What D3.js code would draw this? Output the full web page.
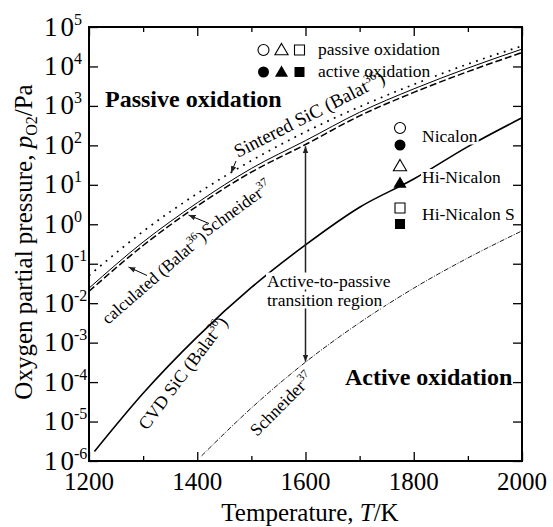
<!DOCTYPE html>
<html><head><meta charset="utf-8">
<script src="https://cdn.jsdelivr.net/npm/d3@7"></script>
<style>
body{margin:0;background:#fff}
svg{display:block}
text{font-family:"Liberation Serif","Times New Roman",serif;fill:#000}
</style>
</head><body>
<svg id="chart" width="553" height="527"></svg>
<script>
// ---- data (pressures in Pa, temperatures in K) ----
const temps = [1200, 1300, 1400, 1500, 1600, 1700, 1800, 1900, 2000];
const sinteredBalat = [0.050, 0.66, 6.0, 41, 220, 950, 3500, 11500, 33000];
const calculatedBalat = [0.024, 0.355, 3.5, 26, 132, 690, 2700, 9100, 27500];
const calculatedSchneider = [0.020, 0.29, 2.9, 21, 105, 560, 2200, 7400, 22500];
const cvdTemps = [1210, 1300, 1400, 1500, 1600, 1700, 1800, 1900, 2000];
const cvdBalat = [1.74e-6, 5.2e-5, 1.4e-3, 2.5e-2, 0.30, 2.7, 14, 93, 500];
const schneiderTemps = [1408, 1500, 1600, 1700, 1800, 1900, 2000];
const schneiderLow = [1.35e-6, 2.2e-5, 3.2e-4, 3.2e-3, 2.4e-2, 0.14, 0.68];
const xMajorTicks = [1200, 1400, 1600, 1800, 2000];
const xMinorTicks = [1300, 1500, 1700, 1900];
const yTickExponents = [-6, -5, -4, -3, -2, -1, 0, 1, 2, 3, 4, 5];
const transitionT = 1600;
const transitionTop = 95;
const transitionBottom = 3.3e-4;

// ---- layout ----
const L = 89, R = 522, T = 27, B = 461;
const svg = d3.select("#chart");
const x = d3.scaleLinear().domain([1200, 2000]).range([L, R]);
const y = d3.scaleLog().domain([1e-6, 1e5]).range([B, T]);

const defs = svg.append("defs");
function marker(id, orient) {
  defs.append("marker").attr("id", id).attr("viewBox", "0 0 10 10")
    .attr("refX", 10).attr("refY", 5).attr("markerWidth", 7).attr("markerHeight", 7)
    .attr("markerUnits", "userSpaceOnUse").attr("orient", orient)
    .append("path").attr("d", "M0,1 L10,5 L0,9 Z").attr("fill", "#222");
}
marker("ah", "auto");
marker("ah2", "auto-start-reverse");

// ---- curves ----
const line = d3.line().x(d => x(d[0])).y(d => y(d[1])).curve(d3.curveMonotoneX);
const curves = svg.append("g").attr("fill", "none").attr("stroke", "#000");
curves.append("path").datum(temps.map((t, i) => [t, sinteredBalat[i]]))
  .attr("d", line).attr("stroke-width", 1.7).attr("stroke-dasharray", "1.8,5.5");
curves.append("path").datum(temps.map((t, i) => [t, calculatedBalat[i]]))
  .attr("d", line).attr("stroke-width", 1);
curves.append("path").datum(temps.map((t, i) => [t, calculatedSchneider[i]]))
  .attr("d", line).attr("stroke-width", 1.5).attr("stroke-dasharray", "7,3");
curves.append("path").datum(cvdTemps.map((t, i) => [t, cvdBalat[i]]))
  .attr("d", line).attr("stroke-width", 1.6);
curves.append("path").datum(schneiderTemps.map((t, i) => [t, schneiderLow[i]]))
  .attr("d", line).attr("stroke-width", 0.9).attr("stroke-dasharray", "5,1.5,1,1.5");

// ---- transition arrow ----
svg.append("line")
  .attr("x1", x(transitionT)).attr("x2", x(transitionT))
  .attr("y1", y(transitionTop)).attr("y2", y(transitionBottom))
  .attr("stroke", "#222").attr("stroke-width", 1.5)
  .attr("marker-start", "url(#ah2)").attr("marker-end", "url(#ah)");

// helper: text with white box behind
function boxedText(g, tx, ty, str, size, weight, pad) {
  const t = g.append("text").attr("x", tx).attr("y", ty)
    .attr("font-size", size).attr("font-weight", weight || "normal").text(str);
  const bb = t.node().getBBox();
  g.insert("rect", () => t.node()).attr("x", bb.x - pad).attr("y", bb.y + 2)
    .attr("width", bb.width + 2 * pad).attr("height", bb.height - 3).attr("fill", "#fff");
  return t;
}

const ann = svg.append("g");
boxedText(ann, 267, 286.5, "Active-to-passive", 17.5, "normal", 1);
boxedText(ann, 267, 305.5, "transition region", 17.5, "normal", 1);
boxedText(ann, 105, 107, "Passive oxidation", 24, "bold", 1);
boxedText(ann, 345, 385, "Active oxidation", 24, "bold", 1);

// ---- legends ----
const sym = (type, size) => d3.symbol().type(type).size(size)();
const symTypes = [[d3.symbolCircle, 95], [d3.symbolTriangle, 75], [d3.symbolSquare, 100]];
const topLeg = svg.append("g");
[263.5, 281.5, 299.5].forEach((px, i) => {
  topLeg.append("path").attr("d", sym(symTypes[i][0], symTypes[i][1]))
    .attr("transform", `translate(${px},${i === 1 ? 51 : 50})`)
    .attr("fill", "#fff").attr("stroke", "#000").attr("stroke-width", 1.1);
  topLeg.append("path").attr("d", sym(symTypes[i][0], symTypes[i][1]))
    .attr("transform", `translate(${px},${i === 1 ? 73 : 72})`).attr("fill", "#000");
});
boxedText(topLeg, 318, 55, "passive oxidation", 17.5, "normal", 1);
boxedText(topLeg, 318, 77, "active oxidation", 17.5, "normal", 1);

const rightLeg = svg.append("g");
const rl = [["Nicalon", 128, 145, 141.5], ["Hi-Nicalon", 167, 184, 183], ["Hi-Nicalon S", 208, 224, 219.5]];
rl.forEach((r, i) => {
  rightLeg.append("path").attr("d", sym(symTypes[i][0], symTypes[i][1]))
    .attr("transform", `translate(400,${r[1]})`)
    .attr("fill", "#fff").attr("stroke", "#000").attr("stroke-width", 1.1);
  rightLeg.append("path").attr("d", sym(symTypes[i][0], symTypes[i][1]))
    .attr("transform", `translate(400,${r[2]})`).attr("fill", "#000");
  boxedText(rightLeg, 422, r[3], r[0], 17.5, "normal", 1);
});

// ---- rotated curve labels ----
function supLabel(px, py, angle, size, main, sup, tail) {
  const t = svg.append("text").attr("transform", `translate(${px},${py}) rotate(${angle})`)
    .attr("font-size", size);
  t.append("tspan").text(main);
  t.append("tspan").attr("font-size", size * 0.65).attr("dy", -size * 0.42).text(sup);
  if (tail) t.append("tspan").attr("dy", size * 0.42).text(tail);
  return t;
}
supLabel(238, 158, -27, 19, "Sintered SiC (Balat", "36", ")");
supLabel(108, 325, -41, 17, "calculated (Balat", "36", ")");
supLabel(207, 237, -36, 17.5, "Schneider", "37", "");
supLabel(147, 431, -53, 18, "CVD SiC (Balat", "36", ")");
supLabel(257, 437, -45, 17.5, "Schneider", "37", "");

// small pointer arrows
const ptr = [[236, 161, 231, 173], [147, 275.5, 128.5, 267], [209, 223.5, 188.5, 215]];
ptr.forEach(p => svg.append("line").attr("x1", p[0]).attr("y1", p[1]).attr("x2", p[2]).attr("y2", p[3])
  .attr("stroke", "#000").attr("stroke-width", 1).attr("marker-end", "url(#ah)"));

// ---- axes ----
const axG = svg.append("g");
function styleAxis(g) { g.select(".domain").remove(); g.selectAll("line").attr("stroke", "#000").attr("stroke-width", 1.3); }
axG.append("g").attr("transform", `translate(0,${B})`)
  .call(d3.axisBottom(x).tickValues(xMajorTicks).tickSize(-9).tickFormat("")).call(styleAxis);
axG.append("g").attr("transform", `translate(0,${B})`)
  .call(d3.axisBottom(x).tickValues(xMinorTicks).tickSize(-5).tickFormat("")).call(styleAxis);
axG.append("g").attr("transform", `translate(0,${T})`)
  .call(d3.axisTop(x).tickValues(xMajorTicks).tickSize(-9).tickFormat("")).call(styleAxis);
axG.append("g").attr("transform", `translate(0,${T})`)
  .call(d3.axisTop(x).tickValues(xMinorTicks).tickSize(-5).tickFormat("")).call(styleAxis);
const yVals = yTickExponents.map(e => Math.pow(10, e));
axG.append("g").attr("transform", `translate(${L},0)`)
  .call(d3.axisLeft(y).tickValues(yVals).tickSize(-9).tickFormat("")).call(styleAxis);
axG.append("g").attr("transform", `translate(${R},0)`)
  .call(d3.axisRight(y).tickValues(yVals).tickSize(-9).tickFormat("")).call(styleAxis);

svg.append("rect").attr("x", L).attr("y", T).attr("width", R - L).attr("height", B - T)
  .attr("fill", "none").attr("stroke", "#000").attr("stroke-width", 2);

// tick labels
xMajorTicks.forEach(v => svg.append("text").attr("x", x(v)).attr("y", 490)
  .attr("text-anchor", "middle").attr("font-size", 25).text(v));
yTickExponents.forEach(e => {
  const t = svg.append("text").attr("x", 44).attr("y", y(Math.pow(10, e)) + 8.5)
    .attr("font-size", 27);
  t.append("tspan").attr("letter-spacing", 3).text("1");
  t.append("tspan").text("0");
  t.append("tspan").attr("font-size", 16).attr("dy", -11).text(String(e));
});

// axis titles
const xt = svg.append("text").attr("x", 310).attr("y", 521).attr("text-anchor", "middle").attr("font-size", 25);
xt.append("tspan").text("Temperature, ");
xt.append("tspan").attr("font-style", "italic").text("T");
xt.append("tspan").text("/K");

const yt = svg.append("text").attr("transform", "translate(32,242) rotate(-90)")
  .attr("text-anchor", "middle").attr("font-size", 25);
yt.append("tspan").text("Oxygen partial pressure, ");
yt.append("tspan").attr("font-style", "italic").text("p");
yt.append("tspan").attr("font-size", 16).attr("dy", 5).text("O2");
yt.append("tspan").attr("dy", -5).text("/Pa");
</script>
</body></html>
